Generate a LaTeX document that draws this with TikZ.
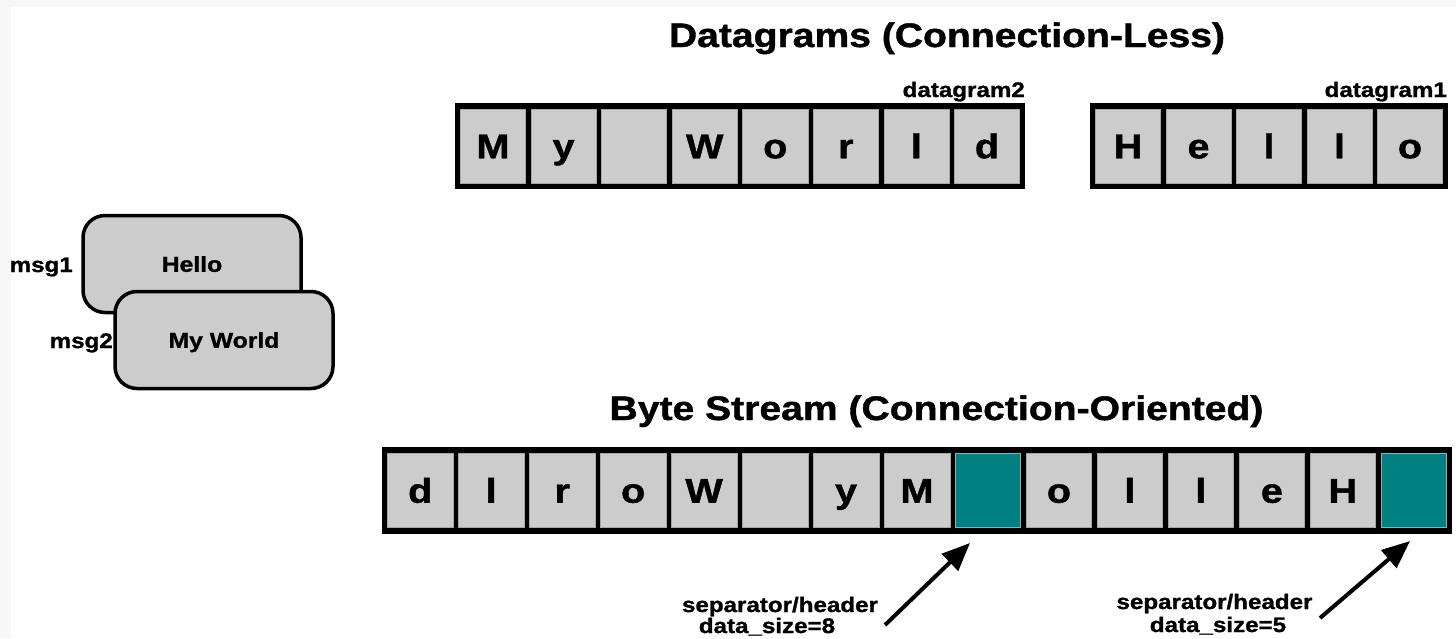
\documentclass[tikz,border=0pt]{standalone}
\usepackage{fontspec}
\newfontfamily\bfont{Liberation Sans Bold}[FakeStretch=1.15, FakeBold=1.2]
\usetikzlibrary{arrows.meta}
\definecolor{cellgray}{HTML}{CCCCCC}
\definecolor{tealc}{HTML}{008080}
\definecolor{bggray}{HTML}{F7F7F7}
\begin{document}
\begin{tikzpicture}[x=1pt,y=-1pt,
  title/.style={font=\bfont\fontsize{34}{40}\selectfont, inner sep=0pt, anchor=base},
  lbl/.style={font=\bfont\fontsize{21}{25}\selectfont, inner sep=0pt},
  frame/.style={fill=black, draw=none, inner sep=0pt, anchor=north west},
  cell/.style={draw=gray!70, line width=0.5pt, inner sep=0pt, minimum height=74pt,
    text height=24.5pt, text depth=0pt, font=\bfont\fontsize{34.5}{40}\selectfont},
  msgbox/.style={draw=black, line width=3.5pt, fill=cellgray, rounded corners=22pt,
    minimum width=218pt, minimum height=97pt, inner sep=0pt,
    text height=15.5pt, text depth=0pt, font=\bfont\fontsize{21.5}{26}\selectfont},
  arr/.style={line width=4pt, -{Triangle[length=28pt,width=23pt]}}
]
\useasboundingbox (0,0) rectangle (1456,638);
\clip (0,0) rectangle (1456,638);
\fill[bggray] (0,0) rectangle (1456,638);
\fill[white] (11,7) rectangle (1456,638);

% titles
\node[title] (t1) at (947,47) {Datagrams (Connection-Less)};
\node[title] (t2) at (936.5,420) {Byte Stream (Connection-Oriented)};

% datagram 2
\node[frame, minimum width=570pt, minimum height=86pt] (dg2) at (455,103) {};
\node[lbl, anchor=base east] (dg2l) at (1025,97) {datagram2};
\foreach \t [count=\i from 0] in {M,y,{},W,o,r,l,d} {
  \node[cell, fill=cellgray, minimum width=65.06pt] (dgb\i) at ({455+5.5+32.53+\i*70.56},146) {\t};
}

% datagram 1
\node[frame, minimum width=358pt, minimum height=86pt] (dg1) at (1090,103) {};
\node[lbl, anchor=base east] (dg1l) at (1447,97) {datagram1};
\foreach \t [count=\i from 0] in {H,e,l,l,o} {
  \node[cell, fill=cellgray, minimum width=65pt] (dga\i) at ({1090+5.5+32.5+\i*70.5},146) {\t};
}

% messages
\node[lbl, anchor=base east] (m1l) at (73,272) {msg1};
\node[msgbox] (m1) at (192,264) {Hello};
\node[msgbox] (m2) at (224,340) {My World};
\node[lbl, anchor=base east] (m2l) at (113,348) {msg2};

% byte stream
\node[frame, minimum width=1070pt, minimum height=87pt] (bs) at (382,447) {};
\foreach \t/\f [count=\i from 0] in {d/cellgray,l/cellgray,r/cellgray,o/cellgray,W/cellgray,/cellgray,y/cellgray,M/cellgray,/tealc,o/cellgray,l/cellgray,l/cellgray,e/cellgray,H/cellgray,/tealc} {
  \node[cell, fill=\f, minimum width=65.47pt] (bsc\i) at ({382+5.5+32.73+\i*70.97},490.5) {\t};
}

% annotations
\node[lbl, anchor=base] (s1a) at (780,612) {separator/header};
\node[lbl, anchor=base] (s1b) at (767,633) {data\_size=8};
\node[lbl, anchor=base] (s2a) at (1214.5,609) {separator/header};
\node[lbl, anchor=base] (s2b) at (1218,632) {data\_size=5};

\coordinate (a1s) at (885,625);
\coordinate (a1e) at (970,543);
\coordinate (a2s) at (1320,618);
\coordinate (a2e) at (1410,541);
\draw[arr] (a1s) -- (a1e);
\draw[arr] (a2s) -- (a2e);
\end{tikzpicture}
\end{document}
